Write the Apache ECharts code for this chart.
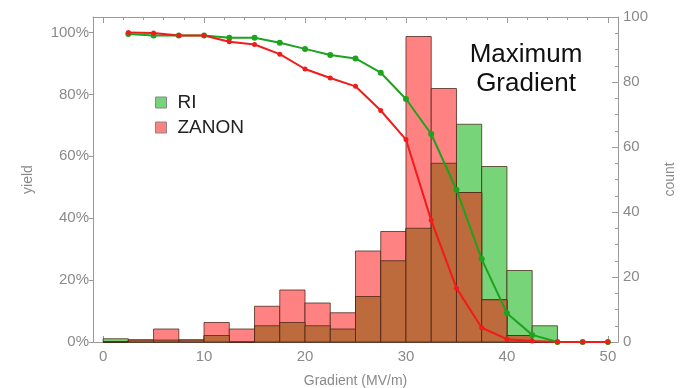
<!DOCTYPE html>
<html lang="en">
<head>
    <meta charset="UTF-8" />
    <title>Maximum Gradient</title>
    <style>
        html, body { margin: 0; padding: 0; background: #fff; }
        #chart { width: 687px; height: 388px; }
    </style>
</head>
<body>
    <div id="chart"></div>
    <script src="https://cdn.jsdelivr.net/npm/echarts@6/dist/echarts.min.js"></script>
    <script>
        // histogram bins (MV/m), width 2.5
        const binStart = [0, 2.5, 5, 7.5, 10, 12.5, 15, 17.5, 20, 22.5, 25, 27.5, 30, 32.5, 35, 37.5, 40, 42.5, 45]
        const riCount = [1, 0.6, 0.6, 0.6, 2, 0, 5, 6, 5, 4, 14, 25, 35, 55, 67, 54, 22, 5, 0]
        const zanonCount = [0, 0.6, 4, 0.6, 6, 4, 11, 16, 12, 9, 28, 34, 94, 78, 46, 13, 2, 0, 0]

        // yield curves (%), at the bin edges
        const gradPts = [2.5, 5, 7.5, 10, 12.5, 15, 17.5, 20, 22.5, 25, 27.5, 30, 32.5, 35, 37.5, 40, 42.5, 45, 47.5, 50]
        const riYield = [99.5, 99, 99, 99, 98.3, 98.3, 96.7, 94.7, 92.7, 91.6, 87, 78.5, 67.2, 49.2, 26.8, 9.3, 2.3, 0, 0, 0]
        const zanonYield = [100, 99.8, 99, 99, 97, 96.1, 93, 88.2, 85.3, 82.6, 74.8, 65.4, 39.3, 17.4, 4.6, 0.9, 0.3, 0, 0, 0]

        // tick labels
        const xMajor = [0, 10, 20, 30, 40, 50]
        const xMinor = [0, 2, 4, 6, 8, 10, 12, 14, 16, 18, 20, 22, 24, 26, 28, 30, 32, 34, 36, 38, 40, 42, 44, 46, 48, 50]
        const yieldTicks = [0, 20, 40, 60, 80, 100]

        const binW = 2.5
        const frameColor = '#9a9a9a'
        const labelColor = '#8a8a8a'
        const font = 'Liberation Sans'

        function bins (counts) {
            return counts.map((c, i) => [binStart[i], binStart[i] + binW, c])
        }
        // part where both histograms overlap (drawn brown)
        const overlap = riCount.map((c, i) => Math.min(c, zanonCount[i]))

        function renderBin (params, api) {
            const a = api.coord([api.value(0), api.value(2)])
            const b = api.coord([api.value(1), 0])
            return {
                type: 'rect',
                shape: { x: a[0], y: a[1], width: b[0] - a[0], height: b[1] - a[1] },
                style: { fill: api.visual('color'), stroke: 'rgba(70,35,20,0.75)', lineWidth: 1 }
            }
        }

        function pts (ys) {
            return gradPts.map((x, i) => [x, ys[i]])
        }

        const chart = echarts.init(document.getElementById('chart'))
        const xBase = { type: 'value', min: -1, max: 51, splitLine: { show: false } }

        chart.setOption({
            animation: false,
            textStyle: { fontFamily: font },
            grid: { left: 93, right: 69, top: 17, bottom: 46, outerBoundsMode: 'none' },
            legend: {
                data: ['RI', 'ZANON'],
                orient: 'vertical',
                left: 150,
                top: 88,
                itemWidth: 11,
                itemHeight: 11,
                itemGap: 6,
                icon: 'rect',
                itemStyle: { borderColor: '#888', borderWidth: 1 },
                textStyle: { fontSize: 19, color: '#222', fontFamily: font, padding: [0, 0, 0, 6] }
            },
            graphic: [{
                type: 'text',
                x: 526,
                y: 69,
                style: {
                    text: 'Maximum\nGradient',
                    font: '26px "Liberation Sans"',
                    lineHeight: 29,
                    fill: '#111',
                    align: 'center',
                    verticalAlign: 'middle'
                }
            }],
            xAxis: [
                Object.assign({}, xBase, {
                    position: 'bottom',
                    name: 'Gradient (MV/m)',
                    nameLocation: 'middle',
                    nameGap: 32,
                    nameTextStyle: { color: labelColor, fontSize: 14 },
                    axisLine: { onZero: false, lineStyle: { color: frameColor } },
                    axisTick: { customValues: xMajor, inside: true, length: 6, lineStyle: { color: frameColor } },
                    axisLabel: { customValues: xMajor, color: labelColor, fontSize: 15, margin: 7 }
                }),
                Object.assign({}, xBase, {
                    position: 'top',
                    axisLine: { onZero: false, lineStyle: { color: frameColor } },
                    axisTick: { customValues: xMinor, inside: true, length: 3, lineStyle: { color: frameColor } },
                    axisLabel: { show: false }
                }),
                Object.assign({}, xBase, {
                    position: 'top',
                    axisLine: { show: false, onZero: false },
                    axisTick: { customValues: xMajor, inside: true, length: 6, lineStyle: { color: frameColor } },
                    axisLabel: { show: false }
                })
            ],
            yAxis: [
                {
                    type: 'value',
                    min: 0,
                    max: 105,
                    position: 'left',
                    splitLine: { show: false },
                    name: 'yield',
                    nameLocation: 'middle',
                    nameGap: 58,
                    nameRotate: 90,
                    nameTextStyle: { color: labelColor, fontSize: 14 },
                    axisLine: { show: true, onZero: false, lineStyle: { color: frameColor } },
                    axisTick: { show: true, customValues: yieldTicks, length: 4, lineStyle: { color: frameColor } },
                    axisLabel: { customValues: yieldTicks, formatter: '{value}%', color: labelColor, fontSize: 15, margin: 4 }
                },
                {
                    type: 'value',
                    min: 0,
                    max: 100,
                    interval: 20,
                    position: 'right',
                    splitLine: { show: false },
                    name: 'count',
                    nameLocation: 'middle',
                    nameGap: 45,
                    nameRotate: 90,
                    nameTextStyle: { color: labelColor, fontSize: 14 },
                    axisLine: { show: true, onZero: false, lineStyle: { color: frameColor } },
                    axisTick: { show: true, inside: true, length: 6, lineStyle: { color: frameColor } },
                    minorTick: { show: true, splitNumber: 4, length: 3, lineStyle: { color: frameColor } },
                    axisLabel: { color: labelColor, fontSize: 15, margin: 5 }
                }
            ],
            series: [
                {
                    name: 'RI',
                    type: 'custom',
                    yAxisIndex: 1,
                    renderItem: renderBin,
                    itemStyle: { color: '#78d478' },
                    encode: { x: [0, 1], y: 2 },
                    data: bins(riCount)
                },
                {
                    name: 'ZANON',
                    type: 'custom',
                    yAxisIndex: 1,
                    renderItem: renderBin,
                    itemStyle: { color: '#ff8282' },
                    encode: { x: [0, 1], y: 2 },
                    data: bins(zanonCount)
                },
                {
                    name: 'both',
                    type: 'custom',
                    yAxisIndex: 1,
                    renderItem: renderBin,
                    itemStyle: { color: '#bd6a3c' },
                    encode: { x: [0, 1], y: 2 },
                    data: bins(overlap)
                },
                {
                    name: 'RI yield',
                    type: 'line',
                    yAxisIndex: 0,
                    data: pts(riYield),
                    symbol: 'circle',
                    symbolSize: 6,
                    lineStyle: { color: '#1ea31e', width: 2 },
                    itemStyle: { color: '#1ea31e' }
                },
                {
                    name: 'ZANON yield',
                    type: 'line',
                    yAxisIndex: 0,
                    data: pts(zanonYield),
                    symbol: 'circle',
                    symbolSize: 5,
                    lineStyle: { color: '#f01c1c', width: 2 },
                    itemStyle: { color: '#f01c1c' }
                }
            ]
        })
    </script>
</body>
</html>
